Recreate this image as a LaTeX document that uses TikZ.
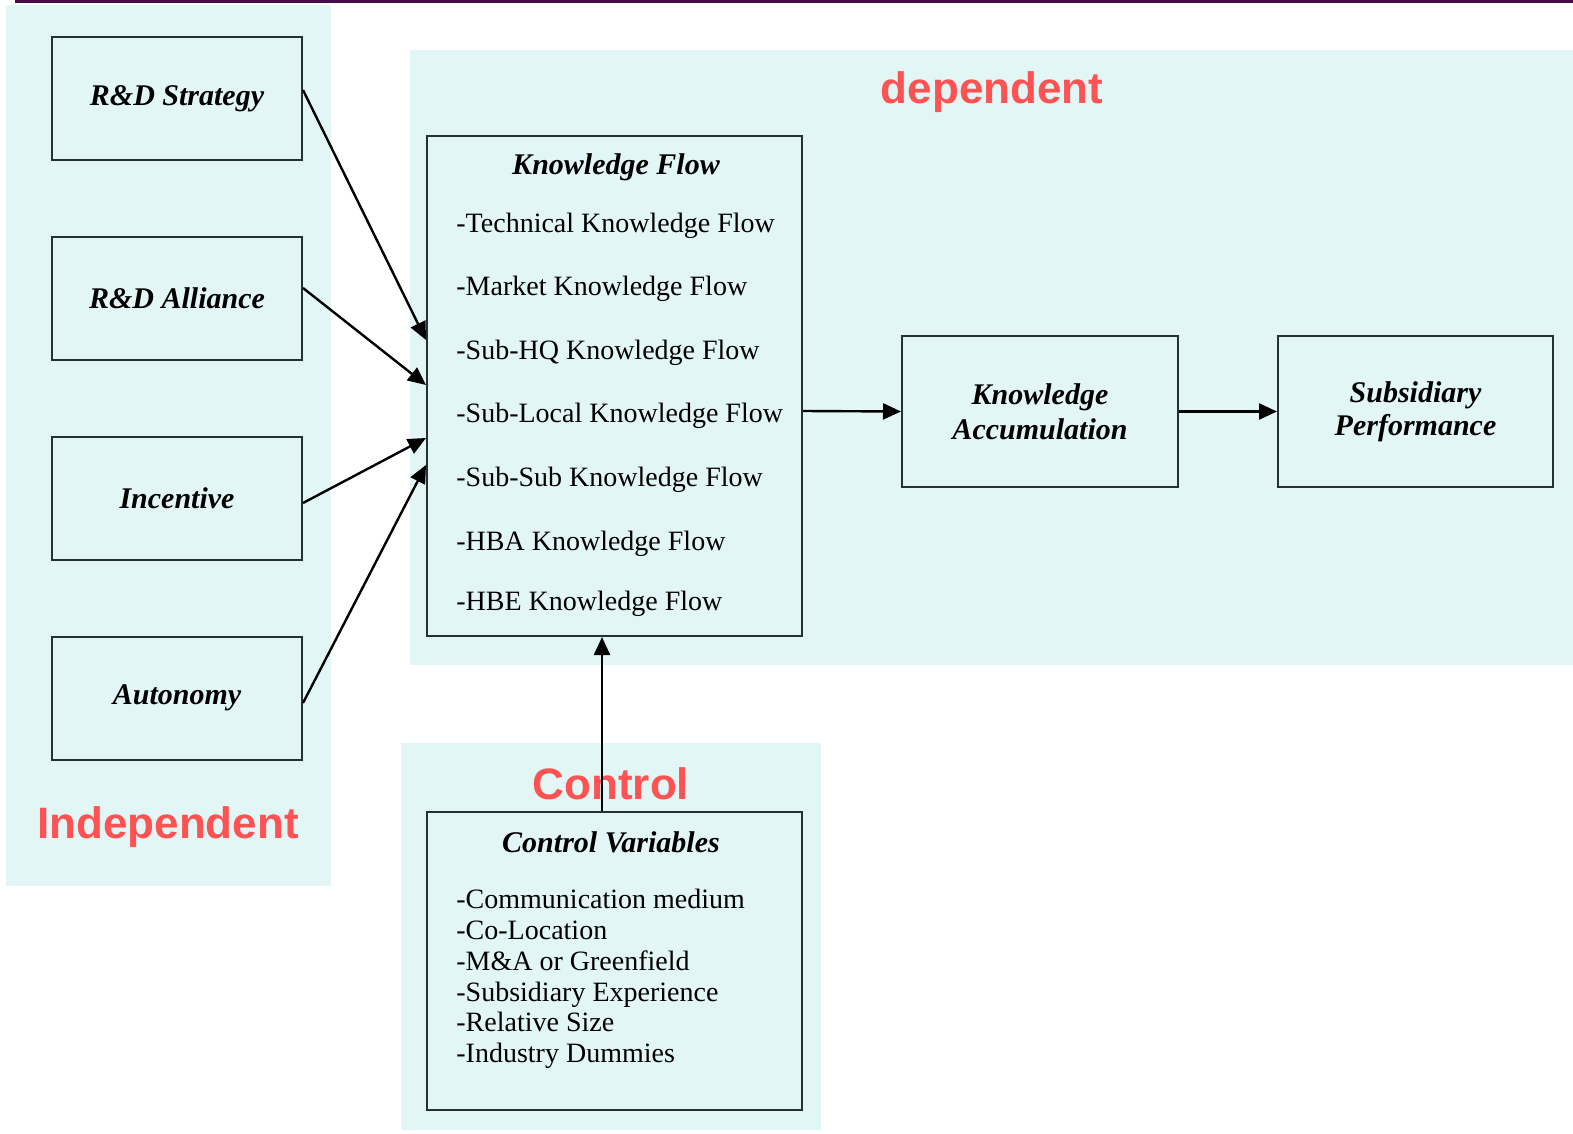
\documentclass[tikz,border=0pt]{standalone}
\usepackage{fontspec}
\setmainfont{Liberation Serif}
\setsansfont{Liberation Sans}
\usetikzlibrary{positioning}
\usetikzlibrary{calc}
\usetikzlibrary{arrows.meta}

\definecolor{panelcyan}{RGB}{227,246,246}
\definecolor{labelred}{RGB}{255,82,82}
\definecolor{boxline}{RGB}{38,50,50}
\definecolor{topline}{RGB}{72,12,72}

\tikzset{
	varbox/.style={draw=boxline, line width=1pt, minimum width=125pt, minimum height=61.5pt, align=center, font=\fontsize{15}{18}\selectfont\bfseries\itshape},
	boxtitle/.style={font=\fontsize{15}{18}\selectfont\bfseries\itshape},
	flowitem/.style={anchor=west, inner sep=0pt, font=\fontsize{14}{16}\selectfont},
	grouplabel/.style={text=labelred, font=\fontsize{22}{26}\selectfont\sffamily\bfseries},
	flowarrow/.style={line width=1.2pt, -{Triangle[length=9pt,width=8pt]}}
}

\begin{document}
\begin{tikzpicture}[x=0.5pt, y=-0.5pt]
		\useasboundingbox (0,0) rectangle (1573,1134);
		
		% shaded groups
		\fill[panelcyan] (6,5) rectangle (331,886);
		\fill[panelcyan] (410,50) rectangle (1573,665);
		\fill[panelcyan] (401,743) rectangle (821,1130);
		\draw[topline, line width=1.5pt] (15,1.5) -- (1573,1.5);
		
		\node[grouplabel] (deplabel) at (992,92) {dependent};
		\node[grouplabel] (indeplabel) at (168,827) {Independent};
		\node[grouplabel] (ctrllabel) at (611,784) {Control};
		
		% independent variables
		\node[varbox] (strat) at (177,98.5) {R\&D Strategy};
		\node[varbox] (alli) at (177,298.5) {R\&D Alliance};
		\node[varbox] (incent) at (177,498) {Incentive};
		\node[varbox] (auton) at (177,698) {Autonomy};
		
		% knowledge flow
		\node[draw=boxline, line width=1pt, minimum width=187.5pt, minimum height=250pt] (kflow) at (614.5,386) {};
		\node[boxtitle] (kflowtitle) at (616,167) {Knowledge Flow};
		\node[flowitem] (kf1) at (456,226) {-Technical Knowledge Flow};
		\node[flowitem] (kf2) at (456,289) {-Market Knowledge Flow};
		\node[flowitem] (kf3) at (456,353) {-Sub-HQ Knowledge Flow};
		\node[flowitem] (kf4) at (456,416) {-Sub-Local Knowledge Flow};
		\node[flowitem] (kf5) at (456,480) {-Sub-Sub Knowledge Flow};
		\node[flowitem] (kf6) at (456,544) {-HBA Knowledge Flow};
		\node[flowitem] (kf7) at (456,604) {-HBE Knowledge Flow};
		
		\node[varbox, minimum width=138pt, minimum height=75.5pt, font=\fontsize{15}{17.5}\selectfont\bfseries\itshape] (kacc) at (1040,411.5) {Knowledge\\Accumulation};
		\node[varbox, minimum width=137.5pt, minimum height=75.5pt, font=\fontsize{15}{16.5}\selectfont\bfseries\itshape] (perf) at (1415.5,411.5) {Subsidiary\\Performance};
		
		% control variables
		\node[draw=boxline, line width=1pt, minimum width=187.5pt, minimum height=149pt] (ctrl) at (614.5,961) {};
		\node[boxtitle] (ctrltitle) at (611,842) {Control Variables};
		\node[flowitem, align=left, font=\fontsize{14}{15.4}\selectfont] (ctrlitems) at (456,979) {-Communication medium\\-Co-Location\\-M\&A or Greenfield\\-Subsidiary Experience\\-Relative Size\\-Industry Dummies};
		
		% connectors
		\draw[flowarrow] ([yshift=4.25pt]strat.east) -- ([yshift=23pt]kflow.west);
		\draw[flowarrow] ([yshift=5.25pt]alli.east) -- ([yshift=0.5pt]kflow.west);
		\draw[flowarrow] ([yshift=-2.5pt]incent.east) -- ([yshift=-26pt]kflow.west);
		\draw[flowarrow] ([yshift=-2.5pt]auton.east) -- ([yshift=-39.5pt]kflow.west);
		\draw[flowarrow] ([yshift=-12.5pt]kflow.east) -- (kacc.west);
		\draw[flowarrow] (kacc.east) -- (perf.west);
		\draw[flowarrow] ([xshift=-6.25pt]ctrl.north) -- ([xshift=-6.25pt]kflow.south);
		
		\end{tikzpicture}
\end{document}
